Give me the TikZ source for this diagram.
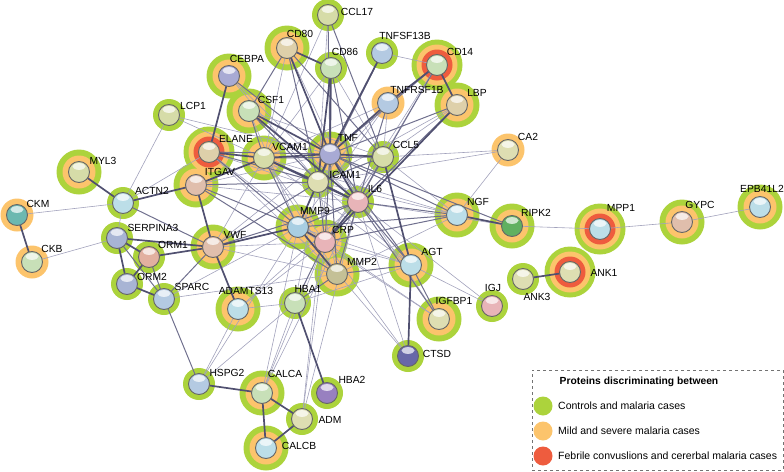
\documentclass[tikz,border=0pt]{standalone}
\usepackage{fontspec}
\setmainfont{Liberation Sans}
\usepackage{xcolor}
\usepackage{tikz}
\usetikzlibrary{backgrounds}
\definecolor{ringG}{RGB}{172,211,60}
\definecolor{ringO}{RGB}{252,196,108}
\definecolor{ringR}{RGB}{238,92,62}
\definecolor{edgeD}{RGB}{80,80,112}
\definecolor{edgeM}{RGB}{112,112,142}
\definecolor{edgeL}{RGB}{162,162,188}
\definecolor{cOlive}{RGB}{214,220,168}
\definecolor{cTan}{RGB}{222,208,170}
\definecolor{cLgreen}{RGB}{200,224,184}
\definecolor{cLblue}{RGB}{180,202,226}
\definecolor{cLav}{RGB}{168,170,212}
\definecolor{cYel}{RGB}{222,222,178}
\definecolor{cPinkTan}{RGB}{224,190,172}
\definecolor{cPink}{RGB}{232,180,184}
\definecolor{cCyan}{RGB}{188,222,232}
\definecolor{cBlue}{RGB}{168,206,226}
\definecolor{cGreen}{RGB}{96,176,96}
\definecolor{cTeal}{RGB}{108,184,176}
\definecolor{cBgrey}{RGB}{168,180,212}
\definecolor{cSalmon}{RGB}{226,176,160}
\definecolor{cOliveDk}{RGB}{196,192,150}
\definecolor{cDpurple}{RGB}{104,104,168}
\definecolor{cPurple}{RGB}{152,128,192}
\pgfdeclarelayer{halo}
\pgfdeclarelayer{wire}
\pgfsetlayers{halo,wire,main}

\begin{document}
\begin{tikzpicture}[x=1pt,y=-1pt,
  ball/.style={circle, draw=black!60, line width=0.9pt, minimum size=21pt, inner sep=0pt, outer sep=0pt,
    path picture={\fill[white,opacity=0.7] ([yshift=-5pt]path picture bounding box.north) ellipse (6.5pt and 3.4pt);}},
  lbl/.style={font=\fontsize{10.3}{12}\selectfont, inner sep=0pt},
  e3/.style={draw=edgeD, line width=1.7pt},
  e2/.style={draw=edgeM, line width=1pt},
  e1/.style={draw=edgeL, line width=0.6pt}]
  \useasboundingbox (0,0) rectangle (784,471);

  \foreach \n/\x/\y/\c/\lx/\ly in {
    CCL17/328/15/cOlive/357/12, CD80/287/48/cTan/300/34, CD86/331/68/cLgreen/345/52,
    TNFSF13B/382/53/cLblue/405/36, CD14/437/65/cLgreen/460/52, CEBPA/229/76/cLav/247/59,
    CSF1/249/111/cLgreen/271/100, TNFRSF1B/388/103/cLblue/417/90, LBP/457/105/cTan/477/93,
    LCP1/169/115/cOlive/193/106, ELANE/209/152/cTan/236/139, VCAM1/264/158/cOlive/290/147,
    TNF/330/154/cLav/348/138, CCL5/383/157/cOlive/406/145, CA2/508/150/cYel/528/137,
    MYL3/79/172/cOlive/103/161, ITGAV/196/185/cPinkTan/220/172, ICAM1/318/182/cYel/345/175,
    ACTN2/123/203/cCyan/152/191, IL6/358/202/cPink/375/189, NGF/457/215/cCyan/478/202,
    RIPK2/512/226/cGreen/536/213, MPP1/600/229/cCyan/621/208, GYPC/682/222/cPinkTan/700/205,
    EPB41L2/760/207/cCyan/762/189, CKM/17/215/cTeal/38/204, MMP9/298/227/cBlue/315/211,
    SERPINA3/117/238/cBgrey/153/228, VWF/213/247/cPinkTan/235/235, CRP/325/242/cPink/343/230,
    CKB/32/262/cLgreen/52/249, ORM1/149/257/cSalmon/173/245, AGT/411/265/cCyan/432/252,
    MMP2/337/274/cOliveDk/362/262, ANK1/570/272/cYel/604/273, ANK3/523/279/cYel/537/297,
    ORM2/127/284/cBgrey/152/277, SPARC/164/299/cLblue/192/287, HBA1/295/303/cLgreen/308/289,
    ADAMTS13/238/309/cCyan/246/291, IGJ/492/306/cPink/493/288, IGFBP1/439/319/cYel/454/301,
    CTSD/408/356/cDpurple/437/354, HSPG2/199/384/cLblue/227/373, CALCA/262/393/cLgreen/285/374,
    HBA2/327/393/cPurple/352/380, ADM/302/419/cYel/330/420, CALCB/266/448/cCyan/299/446}
  {
    \node[ball, fill=\c] (\n) at (\x,\y) {};
    \node[lbl] (\n-t) at (\lx,\ly) {\n};
  }

  \begin{pgfonlayer}{halo}
    \foreach \n in {CD14,ELANE,MPP1,ANK1}
      \fill[ringG] (\n) circle (25.5pt);
    \foreach \n in {CD80,CEBPA,CSF1,LBP,VCAM1,TNF,MYL3,ITGAV,VWF,MMP9,CRP,MMP2,NGF,RIPK2,GYPC,EPB41L2,ADAMTS13,AGT,IGFBP1,CALCA,CALCB}
      \fill[ringG] (\n) circle (22.5pt);
    \foreach \n in {CCL17,CD86,TNFSF13B,LCP1,CCL5,ICAM1,IL6,ACTN2,SERPINA3,ORM1,ORM2,SPARC,HBA1,IGJ,ANK3,CTSD,HSPG2,HBA2,ADM}
      \fill[ringG] (\n) circle (16pt);
    \foreach \n in {CD14,ELANE,MPP1,ANK1}
      \fill[ringO] (\n) circle (20.5pt);
    \foreach \n in {CD80,CEBPA,CSF1,LBP,VCAM1,TNF,MYL3,ITGAV,VWF,MMP9,CRP,MMP2,NGF,RIPK2,GYPC,EPB41L2,ADAMTS13,AGT,IGFBP1,CALCA,CALCB}
      \fill[ringO] (\n) circle (16.5pt);
    \foreach \n in {TNFRSF1B,CA2,CKM,CKB}
      \fill[ringO] (\n) circle (16.5pt);
    \foreach \n in {CD14,ELANE,MPP1,ANK1}
      \fill[ringR] (\n) circle (15.5pt);
  \end{pgfonlayer}

  \begin{pgfonlayer}{wire}
    \foreach \a/\b in {CKM/ACTN2, CKB/SERPINA3, LCP1/ACTN2, LCP1/VCAM1, LCP1/TNF, ACTN2/ELANE, ACTN2/SERPINA3,
      CA2/CCL5, CA2/ICAM1, CA2/NGF, MPP1/RIPK2, MPP1/GYPC, GYPC/EPB41L2, IGJ/AGT, IGJ/IL6,
      CTSD/MMP9, CTSD/CRP, CTSD/IL6, HSPG2/ADAMTS13, HSPG2/HBA1, HSPG2/MMP9, CALCA/HBA1, CALCA/IL6,
      CALCA/CRP, CALCA/MMP9, ADM/IL6, ADM/CRP, ADM/TNF, HBA1/ICAM1, HBA1/AGT, SPARC/MMP2, SPARC/MMP9,
      ADAMTS13/CRP, ADAMTS13/IL6, ADAMTS13/HBA1, TNFSF13B/CD14, CD14/CRP, CD14/CCL5, LBP/CCL5, LBP/ICAM1,
      CCL17/ICAM1, CCL17/VCAM1, CD80/IL6, CD80/VCAM1, CD86/CCL5, CD86/VCAM1, CEBPA/IL6, CEBPA/ICAM1,
      CSF1/MMP9, CSF1/CCL5, ELANE/IL6, ELANE/CRP, ELANE/MMP2, ITGAV/IL6, ITGAV/TNF, VWF/CRP, VWF/MMP2,
      VWF/TNF, VWF/VCAM1, NGF/VCAM1, NGF/ICAM1, NGF/MMP2, NGF/CCL5, RIPK2/IL6, IGFBP1/CRP, IGFBP1/MMP9,
      IGFBP1/TNF, AGT/CRP, AGT/VCAM1, AGT/ICAM1, AGT/MMP9, MMP2/ICAM1, MMP2/VCAM1, CRP/VCAM1, CRP/CCL5,
      TNFRSF1B/ICAM1, TNFRSF1B/VCAM1, TNFRSF1B/CCL5, TNFRSF1B/MMP9}
      \draw[e1] (\a) -- (\b);
    \foreach \a/\b in {SPARC/HSPG2, ACTN2/VWF, ORM1/SPARC, SERPINA3/SPARC, VWF/SPARC, VWF/ICAM1, VWF/IL6,
      CEBPA/TNF, CD80/ICAM1, CD80/CSF1, CCL17/CCL5, CCL17/TNF, LBP/TNF, LBP/IL6, CD14/TNF, CD14/IL6,
      NGF/IL6, NGF/TNF, NGF/MMP9, NGF/CRP, AGT/IL6, AGT/IGFBP1, AGT/MMP2, AGT/TNF, CCL5/IL6, CCL5/ICAM1,
      CCL5/VCAM1, ELANE/TNF, ELANE/MMP9, ELANE/ICAM1, ITGAV/MMP2, ITGAV/MMP9, ITGAV/ICAM1, MMP2/TNF,
      MMP2/IL6, CRP/TNF, CRP/ICAM1, MMP9/IL6, MMP9/TNF, MMP9/VCAM1, HBA1/MMP2, HBA1/CRP, CSF1/ICAM1,
      CSF1/VCAM1, TNFRSF1B/IL6, TNFSF13B/ICAM1, CD86/IL6, CD80/CCL5, RIPK2/TNF, IGFBP1/IL6}
      \draw[e2] (\a) -- (\b);
    \foreach \a/\b in {CKM/CKB, MYL3/ACTN2, ACTN2/ITGAV, SERPINA3/ORM1, SERPINA3/ORM2, ORM1/ORM2, ORM2/SPARC,
      ORM1/VWF, SERPINA3/VWF, VWF/ITGAV, VWF/ADAMTS13, VWF/MMP9, ITGAV/VCAM1, ELANE/CEBPA, ELANE/VCAM1,
      CSF1/TNF, CD80/CD86, CD80/TNF, CD86/TNF, CD86/ICAM1, TNFSF13B/TNF, TNFRSF1B/TNF, CD14/LBP,
      CD14/TNFRSF1B, TNF/ICAM1, TNF/VCAM1, TNF/IL6, TNF/CCL5, ICAM1/VCAM1, ICAM1/IL6, IL6/CRP, MMP9/MMP2,
      MMP9/CRP, CCL5/AGT, AGT/CTSD, NGF/RIPK2, HBA1/HBA2, HSPG2/CALCA, CALCA/ADM, CALCA/CALCB, CALCB/ADM,
      ANK1/ANK3, VCAM1/IL6, ICAM1/MMP9, CSF1/IL6, LBP/CRP}
      \draw[e3] (\a) -- (\b);
  \end{pgfonlayer}

  \node[draw=black!55, dashed, minimum width=251pt, minimum height=100pt, inner sep=0pt] (legend) at (657.5,420) {};
  \node[lbl, font=\fontsize{10.3}{12}\selectfont\bfseries] (legend-t) at (639,382) {Proteins discriminating between};
  \node[circle, fill=ringG, minimum size=19pt, inner sep=0pt] (keyG) at (543,406) {};
  \node[circle, fill=ringO, minimum size=19pt, inner sep=0pt] (keyO) at (543,431) {};
  \node[circle, fill=ringR, minimum size=19pt, inner sep=0pt] (keyR) at (543,456) {};
  \node[lbl, anchor=west, font=\fontsize{10.5}{12}\selectfont] (keyG-t) at (558,406) {Controls and malaria cases};
  \node[lbl, anchor=west, font=\fontsize{10.5}{12}\selectfont] (keyO-t) at (558,431) {Mild and severe malaria cases};
  \node[lbl, anchor=west, font=\fontsize{10.5}{12}\selectfont] (keyR-t) at (558,456) {Febrile convuslions and cererbal malaria cases};
\end{tikzpicture}
\end{document}
